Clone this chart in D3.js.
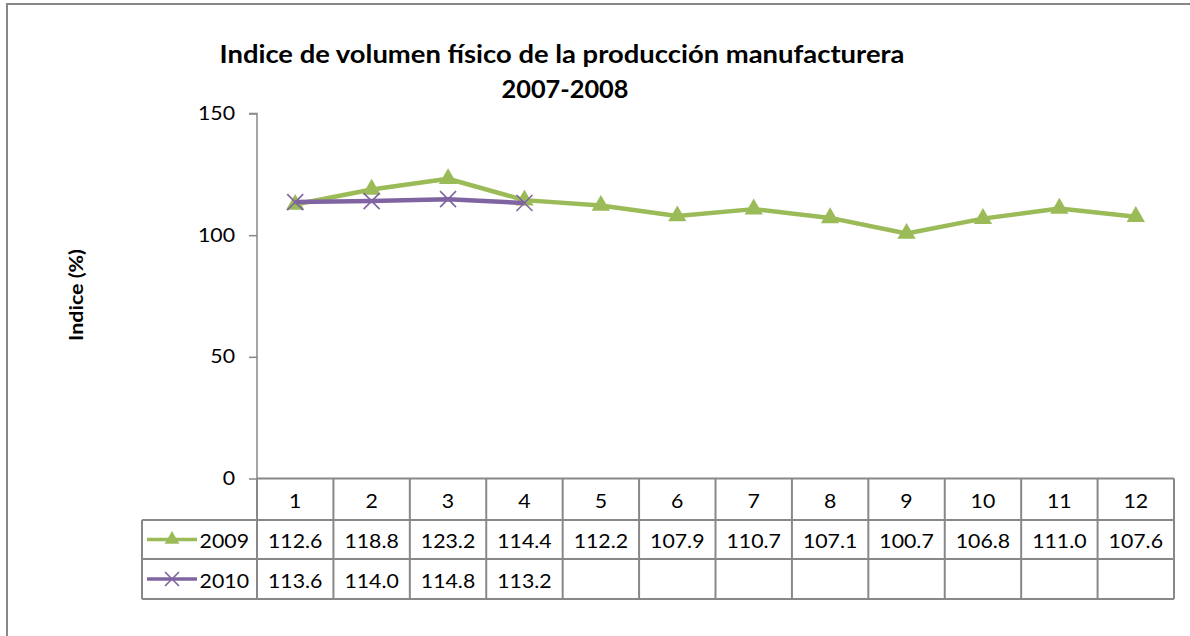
<!DOCTYPE html>
<html>
<head>
<meta charset="utf-8">
<script src="https://cdn.jsdelivr.net/npm/d3@7"></script>
<style>
  html, body { margin: 0; padding: 0; background: #fff; }
  svg { display: block; font-family: Lato, "Open Sans", sans-serif; }
</style>
</head>
<body>
<svg id="chart" width="1190" height="636"></svg>
<script>
// Data
const months = ['1', '2', '3', '4', '5', '6', '7', '8', '9', '10', '11', '12'];
const values2009 = [112.6, 118.8, 123.2, 114.4, 112.2, 107.9, 110.7, 107.1, 100.7, 106.8, 111.0, 107.6];
const values2010 = [113.6, 114.0, 114.8, 113.2];
const yTicks = [0, 50, 100, 150];
const seriesNames = ['2009', '2010'];

const GREEN = '#9bbb59';
const PURPLE = '#8064a2';
const GRID = '#888888';
const STRETCH = 1.12;   // the source font is wider than Lato

const svg = d3.select('#chart');

// widen a text node horizontally
function widen(sel, factor = STRETCH) {
  sel.each(function () {
    const len = this.getComputedTextLength();
    d3.select(this).attr('textLength', len * factor).attr('lengthAdjust', 'spacingAndGlyphs');
  });
  return sel;
}

// Outer frame (clipped on right/bottom like the reference)
svg.append('rect')
  .attr('x', 7).attr('y', 4).attr('width', 1200).attr('height', 650)
  .attr('fill', 'none').attr('stroke', GRID).attr('stroke-width', 2);

const left = 257, right = 1174;
const yTop = 113.5, yBase = 478.5;
const rowTops = [478.5, 520, 559, 599];
const legendLeft = 142;

const x = d3.scaleBand().domain(months).range([left, right]);
const y = d3.scaleLinear().domain([0, 150]).range([yBase, yTop]);

// Title
svg.append('text')
  .attr('x', 562).attr('y', 63)
  .attr('text-anchor', 'middle').attr('font-weight', 'bold').attr('font-size', 24)
  .attr('textLength', 685).attr('lengthAdjust', 'spacingAndGlyphs')
  .text('Indice de volumen físico de la producción manufacturera');
svg.append('text')
  .attr('x', 565).attr('y', 98)
  .attr('text-anchor', 'middle').attr('font-weight', 'bold').attr('font-size', 24)
  .attr('textLength', 127).attr('lengthAdjust', 'spacingAndGlyphs')
  .text('2007-2008');

// Y axis
const yAxis = svg.append('g')
  .attr('transform', `translate(${left},0)`)
  .call(d3.axisLeft(y).tickValues(yTicks).tickSize(8).tickPadding(14).tickFormat(d3.format('d')));
yAxis.select('.domain').attr('stroke', GRID).attr('stroke-width', 1.5).attr('d', `M-8,${yTop}H0V${yBase}`);
yAxis.selectAll('line').attr('stroke', GRID).attr('stroke-width', 1.5);
widen(yAxis.selectAll('text').attr('fill', '#000').attr('font-size', 19).attr('font-family', 'Lato, sans-serif'));

svg.append('text')
  .attr('transform', 'rotate(-90)')
  .attr('x', -295).attr('y', 83)
  .attr('text-anchor', 'middle').attr('font-weight', 'bold').attr('font-size', 19)
  .attr('textLength', 92).attr('lengthAdjust', 'spacingAndGlyphs')
  .text('Indice (%)');

// Data table grid
const tbl = svg.append('g').attr('stroke', GRID).attr('stroke-width', 2).attr('fill', 'none');
tbl.append('line').attr('x1', left).attr('x2', right).attr('y1', rowTops[0]).attr('y2', rowTops[0]);
[1, 2, 3].forEach(i => {
  tbl.append('line').attr('x1', legendLeft).attr('x2', right).attr('y1', rowTops[i]).attr('y2', rowTops[i]);
});
tbl.append('line').attr('x1', legendLeft).attr('x2', legendLeft).attr('y1', rowTops[1]).attr('y2', rowTops[3]);
months.forEach(m => {
  tbl.append('line').attr('x1', x(m)).attr('x2', x(m)).attr('y1', rowTops[0]).attr('y2', rowTops[3]);
});
tbl.append('line').attr('x1', right).attr('x2', right).attr('y1', rowTops[0]).attr('y2', rowTops[3]);

// Table text
const cellText = (xx, yy, t, anchor = 'middle') => widen(svg.append('text')
  .attr('x', xx).attr('y', yy).attr('text-anchor', anchor)
  .attr('dominant-baseline', 'central').attr('font-size', 19).text(t));

months.forEach(m => cellText(x(m) + x.bandwidth() / 2, (rowTops[0] + rowTops[1]) / 2 + 1, m));
values2009.forEach((v, i) => cellText(x(months[i]) + x.bandwidth() / 2, (rowTops[1] + rowTops[2]) / 2 + 1, v.toFixed(1)));
values2010.forEach((v, i) => cellText(x(months[i]) + x.bandwidth() / 2, (rowTops[2] + rowTops[3]) / 2 + 1, v.toFixed(1)));

// Marker helpers
const triPath = s => d3.symbol().type(d3.symbolTriangle).size(s)();
function drawTri(g, cx, cy, s) {
  g.append('path').attr('d', triPath(s)).attr('transform', `translate(${cx},${cy})`).attr('fill', GREEN);
}
function drawX(g, cx, cy, r) {
  g.append('path')
    .attr('d', `M${cx - r},${cy - r}L${cx + r},${cy + r}M${cx - r},${cy + r}L${cx + r},${cy - r}`)
    .attr('stroke', PURPLE).attr('stroke-width', 1.6).attr('fill', 'none');
}

// Legend keys inside the table
const legendY = [(rowTops[1] + rowTops[2]) / 2, (rowTops[2] + rowTops[3]) / 2];
const colors = [GREEN, PURPLE];
seriesNames.forEach((name, i) => {
  const g = svg.append('g');
  g.append('line').attr('x1', 147).attr('x2', 197).attr('y1', legendY[i]).attr('y2', legendY[i])
    .attr('stroke', colors[i]).attr('stroke-width', 3.5);
  if (i === 0) drawTri(g, 172, legendY[i], 95);
  else drawX(g, 172, legendY[i], 7);
  cellText(249, legendY[i] + 1, name, 'end');
});

// Lines
const line = d3.line().x((d, i) => x(months[i]) + x.bandwidth() / 2).y(d => y(d));
svg.append('path').datum(values2009).attr('d', line)
  .attr('fill', 'none').attr('stroke', GREEN).attr('stroke-width', 4.5).attr('stroke-linejoin', 'round');
const m09 = svg.append('g');
values2009.forEach((v, i) => drawTri(m09, x(months[i]) + x.bandwidth() / 2, y(v), 145));

svg.append('path').datum(values2010).attr('d', line)
  .attr('fill', 'none').attr('stroke', PURPLE).attr('stroke-width', 4.5).attr('stroke-linejoin', 'round');
const m10 = svg.append('g');
values2010.forEach((v, i) => drawX(m10, x(months[i]) + x.bandwidth() / 2, y(v), 8));
</script>
</body>
</html>
